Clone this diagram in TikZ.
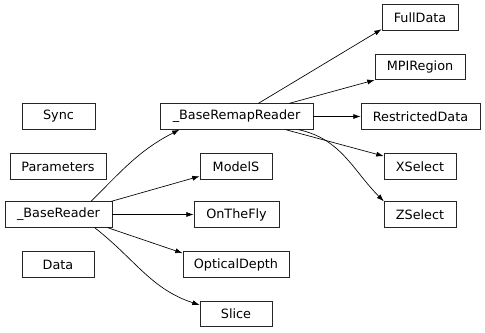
\documentclass[tikz,border=0pt]{standalone}
\usepackage{fontspec}
\setmainfont{DejaVu Sans}
\usetikzlibrary{arrows.meta}
\begin{document}
\begin{tikzpicture}[x=0.75pt,y=-0.75pt]
        \tikzstyle{cls}=[rectangle, draw=black!85, line width=0.6pt, inner sep=0pt, minimum height=25.5*0.75pt, font=\fontsize{9.6}{11}\selectfont]
        \tikzstyle{inh}=[line width=0.5pt, -{Latex[length=5.5pt,width=3.8pt]}]
        \useasboundingbox (0,0) rectangle (485,332);

        % left column
        \node[cls, minimum width=73*0.75pt]  (sync)   at (58.5,116.5) {Sync};
        \node[cls, minimum width=96*0.75pt]  (params) at (58,166.5) {Parameters};
        \node[cls, minimum width=107*0.75pt] (br)     at (58.5,214.5) {\_BaseReader};
        \node[cls, minimum width=72*0.75pt]  (data)   at (58,264.5) {Data};

        % middle column
        \node[cls, minimum width=153*0.75pt] (brr)    at (236.5,116.5) {\_BaseRemapReader};
        \node[cls, minimum width=72*0.75pt]  (models) at (236,166.5) {ModelS};
        \node[cls, minimum width=85*0.75pt]  (otf)    at (236.5,214.5) {OnTheFly};
        \node[cls, minimum width=106*0.75pt] (od)     at (236,264.5) {OpticalDepth};
        \node[cls, minimum width=72*0.75pt]  (slice)  at (236,314) {Slice};

        % right column
        \node[cls, minimum width=76*0.75pt]  (full)   at (420,17.5) {FullData};
        \node[cls, minimum width=90*0.75pt]  (mpi)    at (420,67) {MPIRegion};
        \node[cls, minimum width=119*0.75pt] (rd)     at (420.5,116.5) {RestrictedData};
        \node[cls, minimum width=72*0.75pt]  (xs)     at (420,166.5) {XSelect};
        \node[cls, minimum width=72*0.75pt]  (zs)     at (420,214.5) {ZSelect};

        \draw[inh] (br.22) to[out=45,in=207] (brr.193);
        \draw[inh] (br.14) -- (models.195);
        \draw[inh] (br.east) -- (otf.west);
        \draw[inh] (br.-15) -- (od.168);
        \draw[inh] (br.-20) to[out=-38,in=162] (slice.166);

        \draw[inh] (brr.31) -- (full.197);
        \draw[inh] (brr.14) -- (mpi.196);
        \draw[inh] (brr.east) -- (rd.west);
        \draw[inh] (brr.-15) -- (xs.164);
        \draw[inh] (brr.-12) to[out=-12,in=135] (zs.160);
    \end{tikzpicture}
\end{document}
